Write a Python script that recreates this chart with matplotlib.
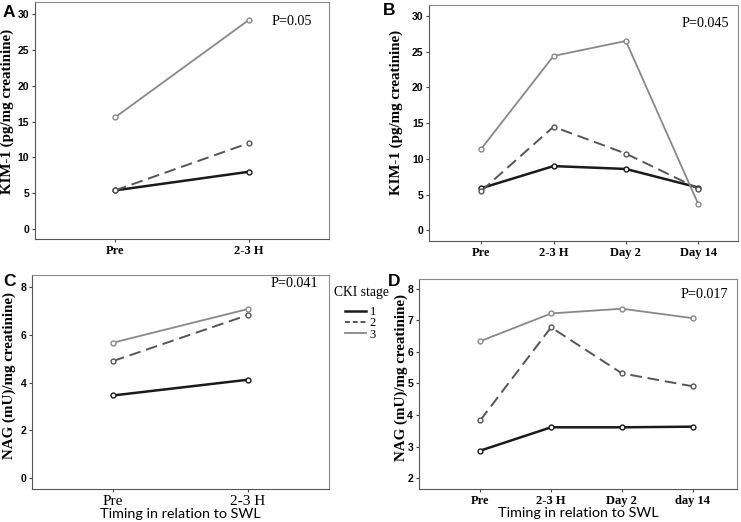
import matplotlib
matplotlib.use("Agg")
import matplotlib.pyplot as plt
from matplotlib.lines import Line2D

# data
times_short = ["Pre", "2-3 H"]
times_b = ["Pre", "2-3 H", "Day 2", "Day 14"]
times_d = ["Pre", "2-3 H", "Day 2", "day 14"]
stages = ["1", "2", "3"]

kim_a = {"1": [5.4, 8.0], "2": [5.4, 12.0], "3": [15.6, 29.2]}
kim_b = {"1": [5.9, 9.0, 8.6, 6.0], "2": [5.5, 14.5, 10.75, 5.85], "3": [11.4, 24.4, 26.5, 3.7]}
nag_c = {"1": [3.46, 4.12], "2": [4.9, 6.83], "3": [5.67, 7.08]}
nag_d = {"1": [2.87, 3.61, 3.61, 3.63], "2": [3.83, 6.78, 5.32, 4.91], "3": [6.34, 7.22, 7.37, 7.07]}

styles = {
    "1": dict(color="#1a1a1a", lw=1.8, ls="-"),
    "2": dict(color="#555555", lw=1.4, ls=(0, (6, 3))),
    "3": dict(color="#888888", lw=1.3, ls="-"),
}

serif = "Liberation Serif"
sans = "Liberation Sans"

fig = plt.figure(figsize=(7.41, 5.22), dpi=100)

panels = [
    # letter, rect, data, ticks, ylim, yticks, xlim, ylabel, p text, p pos, ylabel pos, letter pos
    ("A", [0.047, 0.542, 0.397, 0.454], kim_a, times_short, (-1.4, 31.7), range(0, 31, 5), (-0.6, 1.6),
     "KIM-1 (pg/mg creatinine)", "P=0.05", (0.942, 0.916), (-0.072, 0.538), (0.004, 0.976)),
    ("B", [0.579, 0.538, 0.417, 0.452], kim_b, times_b, (-1.5, 31.5), range(0, 31, 5), (-0.72, 3.55),
     "KIM-1 (pg/mg creatinine)", "P=0.045", (0.97, 0.924), (-0.084, 0.547), (0.517, 0.979)),
    ("C", [0.043, 0.063, 0.401, 0.410], nag_c, times_short, (-0.46, 8.5), range(0, 9, 2), (-0.6, 1.6),
     "NAG (mU)/mg creatinine)", "P=0.041", (0.963, 0.963), (-0.055, 0.53), (0.004, 0.46)),
    ("D", [0.565, 0.063, 0.43, 0.403], nag_d, times_d, (1.65, 8.32), range(2, 9), (-0.87, 3.63),
     "NAG (mU)/mg creatinine)", "P=0.017", (0.972, 0.924), (-0.034, 0.531), (0.524, 0.46)),
]

for letter, rect, data, ticks, ylim, yticks, xlim, ylab, ptxt, ppos, lab_pos, lpos in panels:
    ax = fig.add_axes(rect)
    x = list(range(len(ticks)))
    for s in stages:
        st = styles[s]
        ax.plot(x, data[s], color=st["color"], lw=st["lw"], ls=st["ls"],
                marker="o", ms=3.5, mfc="white", mec=st["color"], mew=1.0)
    ax.set_xlim(*xlim)
    ax.set_ylim(*ylim)
    ax.set_xticks(x)
    if letter == "C":
        ax.set_xticklabels(ticks, fontfamily=serif, fontsize=11)
    else:
        ax.set_xticklabels(ticks, fontfamily=serif, fontweight="bold", fontsize=9)
    ax.set_yticks(list(yticks))
    ax.set_yticklabels([str(v) for v in yticks], fontfamily=sans, fontweight="bold", fontsize=7.5)
    ax.tick_params(direction="out", length=2.5, width=0.8, color="#444444", pad=1.5)
    for side in ("top", "right"):
        ax.spines[side].set_color("#8a8a8a")
    for side in ("left", "bottom"):
        ax.spines[side].set_color("#555555")
    ax.set_ylabel(ylab, fontfamily=serif, fontweight="bold", fontsize=10.8)
    ax.yaxis.set_label_coords(*lab_pos)
    ax.text(ppos[0], ppos[1], ptxt, transform=ax.transAxes, ha="right", va="center",
            fontfamily=serif, fontsize=10.2)
    if letter in ("C", "D"):
        ax.set_xlabel("Timing in relation to SWL", fontfamily=["Lato", "DejaVu Sans"],
                      fontsize=10.4, labelpad=0)
    fig.text(lpos[0], lpos[1], letter, fontfamily=sans, fontweight="bold", fontsize=12.5,
             ha="left", va="center")

# legend between C and D
fig.text(0.451, 0.439, "CKI stage", fontfamily=serif, fontsize=9.8, ha="left", va="center")
handles = [Line2D([0], [0], color=styles[s]["color"], lw=styles[s]["lw"], ls=(0, (2.5, 1.5)) if s == "2" else "-")
           for s in stages]
fig.legend(handles, stages, loc="upper left", bbox_to_anchor=(0.465, 0.414),
           frameon=False, handlelength=1.7, handletextpad=0.3, labelspacing=-0.05,
           borderpad=0, borderaxespad=0, prop={"family": serif, "size": 9})

fig.savefig("out.png", dpi=100)
